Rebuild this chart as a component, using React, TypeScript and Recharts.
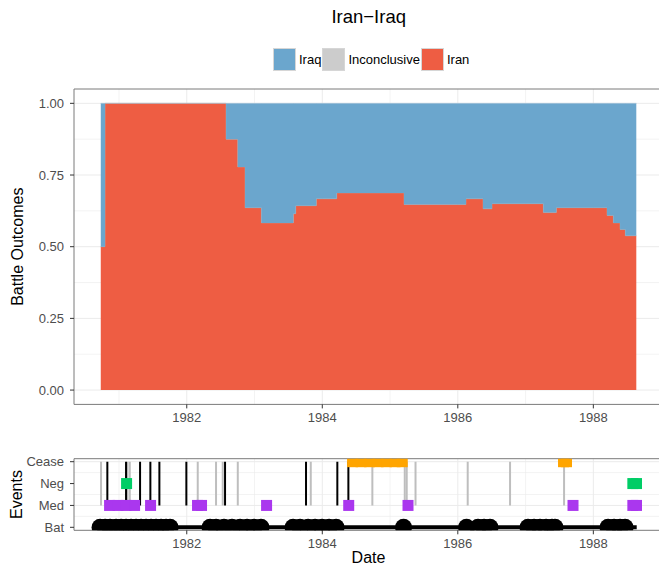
import React from 'react';
import {
  AreaChart,
  Area,
  XAxis,
  YAxis,
  CartesianGrid,
  ReferenceArea,
  ComposedChart,
  Scatter,
  Line,
} from 'recharts';

const FONT = '"Liberation Sans", Arial, Helvetica, sans-serif';

// ---------- text ----------
const chartTitle = 'Iran\u2212Iraq';
const legendLabels = ['Iraq', 'Inconclusive', 'Iran'];
const legendColors = ['#6ba6cd', '#cccccc', '#ee5d43'];

// ---------- top panel: battle outcome shares (step function) ----------
const outcomeDates = [
  1980.731, 1980.794, 1982.58, 1982.753, 1982.86, 1983.101, 1983.573, 1983.608,
  1983.912, 1984.213, 1985.206, 1986.121, 1986.372, 1986.505, 1987.262, 1987.454,
  1988.202, 1988.295, 1988.394, 1988.472, 1988.634,
];
const iranShare = [
  0.5, 1, 0.875, 0.778, 0.636, 0.583, 0.615, 0.643, 0.667, 0.6875, 0.647, 0.667,
  0.632, 0.65, 0.619, 0.636, 0.609, 0.583, 0.56, 0.538, 0.538,
];
const inconclusiveShare = [
  0, 0, 0, 0, 0, 0, 0, 0, 0, 0, 0, 0, 0, 0, 0, 0, 0, 0, 0, 0, 0,
];
const iraqShare = [
  0.5, 0, 0.125, 0.222, 0.364, 0.417, 0.385, 0.357, 0.333, 0.3125, 0.353, 0.333,
  0.368, 0.35, 0.381, 0.364, 0.391, 0.417, 0.44, 0.462, 0.462,
];

const xDomain = [1980.336, 1989.028];
const yearTicks = [1982, 1984, 1986, 1988];
const yearMinor = [1981, 1983, 1985, 1987, 1989];
const shareDomain = [-0.05, 1.05];
const shareTicks = [0, 0.25, 0.5, 0.75, 1];
const shareMinor = [0.125, 0.375, 0.625, 0.875];

// ---------- bottom panel: events ----------
const eventLevels = ['Bat', 'Med', 'Neg', 'Cease'];
const eventTicks = [0, 1, 2, 3];
const eventMinor = [0.5, 1.5, 2.5];
const eventDomain = [-0.137, 3.137];

const battleDates = [
  1980.721, 1980.795, 1980.868, 1980.957, 1981.031, 1981.104, 1981.178, 1981.252,
  1981.326, 1981.399, 1981.473, 1981.547, 1981.621, 1981.695, 1981.754,
  1982.344, 1982.432, 1982.55, 1982.668, 1982.787, 1982.89, 1982.993, 1983.096,
  1983.569, 1983.672, 1983.79, 1983.893, 1983.997, 1984.1, 1984.203,
  1985.199,
  1986.129, 1986.298, 1986.387, 1986.475,
  1987.036, 1987.125, 1987.213, 1987.302, 1987.39, 1987.434,
  1988.217, 1988.306, 1988.394, 1988.468,
];
const warSpan = [1980.72, 1988.64];
const mediationDates = [
  1980.861, 1980.986, 1981.104, 1981.23, 1981.466, 1982.159, 1982.218, 1983.178,
  1984.39, 1985.265, 1987.7, 1988.583, 1988.637,
];
const negotiationDates = [1981.112, 1988.583, 1988.637];
const ceasefireDates = [
  1984.447, 1984.572, 1984.697, 1984.823, 1984.948, 1985.073, 1985.18, 1987.56,
  1987.604,
];
const blackEventDates = [
  1980.828, 1981.104, 1981.311, 1981.463, 1981.596, 1981.994, 1982.565, 1983.76,
  1984.222, 1984.385,
];
const greyEventDates = [
  1980.735, 1981.124, 1981.159, 1982.162, 1982.432, 1982.531, 1982.753, 1983.83,
  1984.739, 1985.217, 1985.246, 1985.376, 1986.146, 1986.771, 1987.568,
];

// ---------- built tables ----------
const outcomeData = outcomeDates.map((d, i) => ({
  date: d,
  iran: iranShare[i],
  inconclusive: inconclusiveShare[i],
  iraq: iraqShare[i],
}));
const atLevel = (dates: number[], level: number) => dates.map((d) => ({ x: d, y: level }));
const battlePoints = atLevel(battleDates, 0);
const warLine = atLevel(warSpan, 0);
const medPoints = atLevel(mediationDates, 1);
const negPoints = atLevel(negotiationDates, 2);
const ceasePoints = atLevel(ceasefireDates, 3);

const GRID = '#ebebeb';
const BORDER = '#7a7a7a';
const TICK_TEXT = { fill: '#4d4d4d', fontSize: 13, fontFamily: FONT };
const TICK_LINE = { stroke: '#333333' };

const squareShape = (color: string) => (p: any) =>
  <rect x={p.cx - 5.5} y={p.cy - 5.5} width={11} height={11} fill={color} />;
const circleShape = (p: any) => <circle cx={p.cx} cy={p.cy} r={8.5} fill="#000" />;

function Legend() {
  return (
    <div
      style={{
        position: 'absolute',
        left: 273,
        top: 48,
        display: 'flex',
        alignItems: 'center',
        fontFamily: FONT,
        fontSize: 13,
        color: '#000',
      }}
    >
      {legendLabels.map((lab, i) => (
        <div key={lab} style={{ display: 'flex', alignItems: 'center' }}>
          <div
            style={{
              width: 23,
              height: 23,
              boxSizing: 'border-box',
              border: '1px solid #d6d6d6',
              background: legendColors[i],
            }}
          />
          <span style={{ marginLeft: 3, marginRight: 1, lineHeight: '23px' }}>{lab}</span>
        </div>
      ))}
    </div>
  );
}

export default function App() {
  return (
    <div
      style={{
        position: 'absolute',
        left: 0,
        top: 0,
        width: 659,
        height: 566,
        overflow: 'hidden',
        background: '#fff',
        fontFamily: FONT,
      }}
    >
      <div
        style={{
          position: 'absolute',
          left: 0,
          top: 7.6,
          width: 737.4,
          textAlign: 'center',
          fontSize: 18.5,
          lineHeight: 1,
          color: '#000',
        }}
      >
        {chartTitle}
      </div>
      <Legend />

      <div style={{ position: 'absolute', left: 0, top: 0 }}>
        <AreaChart
          width={680}
          height={440}
          data={outcomeData}
          margin={{ top: 89, right: 17, bottom: 5.6, left: 0 }}
        >
          <CartesianGrid
            verticalValues={yearMinor}
            horizontalValues={shareMinor}
            stroke={GRID}
            strokeWidth={0.6}
          />
          <CartesianGrid
            verticalValues={yearTicks}
            horizontalValues={shareTicks}
            stroke={GRID}
            strokeWidth={1}
          />
          <XAxis
            type="number"
            dataKey="date"
            domain={xDomain}
            allowDataOverflow
            ticks={yearTicks}
            axisLine={false}
            tickLine={TICK_LINE}
            tickSize={4}
            tickMargin={4}
            tick={TICK_TEXT}
            height={30}
          />
          <YAxis
            type="number"
            domain={shareDomain}
            allowDataOverflow
            ticks={shareTicks}
            tickFormatter={(v: number) => v.toFixed(2)}
            axisLine={false}
            tickLine={TICK_LINE}
            tickSize={4}
            tickMargin={6}
            tick={TICK_TEXT}
            width={74}
            label={{
              value: 'Battle Outcomes',
              angle: -90,
              position: 'insideLeft',
              offset: 17,
              style: { textAnchor: 'middle', fontSize: 16, fill: '#000', fontFamily: FONT },
            }}
          />
          <Area
            type="stepAfter"
            dataKey="iran"
            stackId="o"
            fill={legendColors[2]}
            fillOpacity={1}
            stroke="#b3a09c"
            strokeWidth={0.6}
            isAnimationActive={false}
          />
          <Area
            type="stepAfter"
            dataKey="inconclusive"
            stackId="o"
            fill={legendColors[1]}
            fillOpacity={1}
            stroke="none"
            isAnimationActive={false}
          />
          <Area
            type="stepAfter"
            dataKey="iraq"
            stackId="o"
            fill={legendColors[0]}
            fillOpacity={1}
            stroke="#a9c4d8"
            strokeWidth={0.6}
            isAnimationActive={false}
          />
          <ReferenceArea
            x1={xDomain[0]}
            x2={xDomain[1]}
            y1={shareDomain[0]}
            y2={shareDomain[1]}
            fill="none"
            stroke={BORDER}
            strokeWidth={1}
          />
        </AreaChart>
      </div>

      <div style={{ position: 'absolute', left: 0, top: 440 }}>
        <ComposedChart
          width={680}
          height={126}
          margin={{ top: 18.7, right: 17, bottom: 0, left: 0 }}
        >
          <CartesianGrid
            verticalValues={yearMinor}
            horizontalValues={eventMinor}
            stroke={GRID}
            strokeWidth={0.6}
          />
          <CartesianGrid
            verticalValues={yearTicks}
            horizontalValues={eventTicks}
            stroke={GRID}
            strokeWidth={1}
          />
          <XAxis
            type="number"
            dataKey="x"
            domain={xDomain}
            allowDataOverflow
            ticks={yearTicks}
            axisLine={false}
            tickLine={TICK_LINE}
            tickSize={4}
            tickMargin={4}
            tick={TICK_TEXT}
            height={35.7}
            label={{
              value: 'Date',
              position: 'insideBottom',
              offset: 3,
              style: { fontSize: 16, fill: '#000', fontFamily: FONT },
            }}
          />
          <YAxis
            type="number"
            dataKey="y"
            domain={eventDomain}
            allowDataOverflow
            ticks={eventTicks}
            tickFormatter={(v: number) => eventLevels[v]}
            axisLine={false}
            tickLine={TICK_LINE}
            tickSize={4}
            tickMargin={6}
            tick={TICK_TEXT}
            width={74}
            label={{
              value: 'Events',
              angle: -90,
              position: 'insideLeft',
              offset: 16,
              style: { textAnchor: 'middle', fontSize: 16, fill: '#000', fontFamily: FONT },
            }}
          />
          {greyEventDates.map((d) => (
            <Line
              key={'g' + d}
              data={[{ x: d, y: 1 }, { x: d, y: 3 }]}
              dataKey="y"
              stroke="#bebebe"
              strokeWidth={2}
              dot={false}
              activeDot={false}
              isAnimationActive={false}
            />
          ))}
          {blackEventDates.map((d) => (
            <Line
              key={'b' + d}
              data={[{ x: d, y: 1 }, { x: d, y: 3 }]}
              dataKey="y"
              stroke="#000"
              strokeWidth={2}
              dot={false}
              activeDot={false}
              isAnimationActive={false}
            />
          ))}
          <Line
            data={warLine}
            dataKey="y"
            stroke="#000"
            strokeWidth={4}
            dot={false}
            activeDot={false}
            isAnimationActive={false}
          />
          <Scatter data={battlePoints} shape={circleShape} isAnimationActive={false} />
          <Scatter data={medPoints} shape={squareShape('#aa37ee')} isAnimationActive={false} />
          <Scatter data={negPoints} shape={squareShape('#00cd66')} isAnimationActive={false} />
          <Scatter data={ceasePoints} shape={squareShape('#ffa500')} isAnimationActive={false} />
          <ReferenceArea
            x1={xDomain[0]}
            x2={xDomain[1]}
            y1={eventDomain[0]}
            y2={eventDomain[1]}
            fill="none"
            stroke={BORDER}
            strokeWidth={1}
          />
        </ComposedChart>
      </div>
    </div>
  );
}
